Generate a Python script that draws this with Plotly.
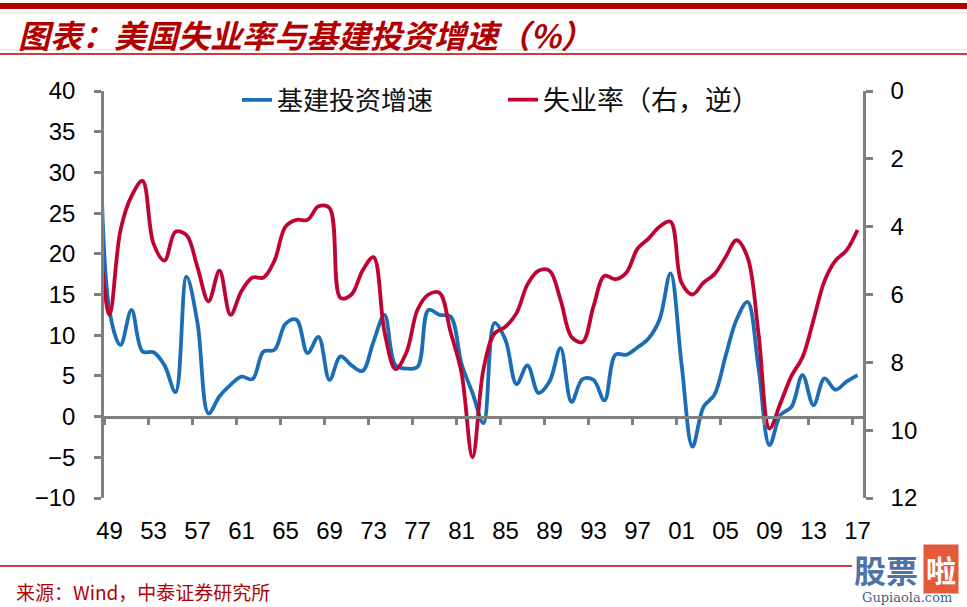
import plotly.graph_objects as go

# ---------------- data ----------------
years = list(range(1948, 2018))

# 基建投资增速 (%), left axis
infra_growth = [
    50.0, 13.0, 8.8, 13.1, 8.0, 7.9, 6.3, 3.0, 17.2, 11.5,   # 1948-1957
    0.4, 2.5, 3.9, 4.9, 4.6, 8.0, 8.2, 11.4, 11.9, 7.8,      # 1958-1967
    9.8, 4.5, 7.4, 6.3, 5.6, 9.2, 12.5, 6.3, 5.9, 6.1,       # 1968-1977
    13.1, 12.5, 12.3, 6.5, 2.9, -0.8, 11.5, 9.4, 4.0, 6.3,   # 1978-1987
    2.9, 4.3, 8.4, 1.8, 4.6, 4.5, 2.0, 7.6, 7.6, 8.5,        # 1988-1997
    9.6, 11.9, 17.6, 6.5, -3.7, 1.2, 2.7, 7.4, 11.9, 14.1,   # 1998-2007
    6.0, -3.5, 0.2, 1.2, 5.1, 1.4, 4.7, 3.3, 4.3, 5.1,       # 2008-2017
]

# 失业率 (%), right axis, reversed
unemployment = [
    4.0, 6.6, 4.1, 3.1, 2.65, 4.5, 5.0, 4.15, 4.25, 5.2,     # 1948-1957
    6.2, 5.3, 6.6, 5.9, 5.5, 5.5, 5.0, 4.0, 3.8, 3.8,        # 1958-1967
    3.4, 3.45, 6.1, 6.0, 5.3, 4.9, 7.1, 8.2, 7.7, 6.45,      # 1968-1977
    6.0, 5.95, 7.1, 8.3, 10.8, 8.2, 7.15, 6.95, 6.55, 5.7,   # 1978-1987
    5.3, 5.3, 6.15, 7.25, 7.4, 6.35, 5.45, 5.55, 5.35, 4.65, # 1988-1997
    4.35, 4.0, 3.85, 5.65, 6.0, 5.65, 5.4, 4.9, 4.4, 4.9,    # 1998-2007
    7.15, 9.95, 9.2, 8.4, 7.85, 6.75, 5.6, 5.0, 4.7, 4.1,    # 2008-2017
]

label_years = list(range(1949, 2018, 4))
label_text = [f"{y % 100:02d}" for y in label_years]
boundary_ticks = [y - 0.5 for y in label_years]
left_ticks = list(range(-10, 45, 5))
right_ticks = list(range(0, 14, 2))

series_names = ["基建投资增速", "失业率（右，逆）"]
title_text = "图表：美国失业率与基建投资增速（%）"
source_text = "来源：Wind，中泰证券研究所"

# ---------------- styling ----------------
W, H = 967, 607
ML, MR, MT, MB = 104, 104, 91, 109
PW, PH = W - ML - MR, H - MT - MB

BLUE = "#1B6DB5"
RED = "#BE0432"
GRAY = "#808080"
DARKRED = "#B20000"
NUM_FONT = "Liberation Sans, Arial, sans-serif"
CJK_FONT = "Noto Sans CJK SC, sans-serif"


def px_x(p):
    return (p - ML) / PW


def px_y(p):
    return (H - MB - p) / PH


fig = go.Figure()
fig.add_trace(go.Scatter(
    x=years, y=infra_growth, name=series_names[0], mode="lines",
    line=dict(color=BLUE, width=3.8, shape="spline", smoothing=1.0),
    xaxis="x", yaxis="y", legend="legend",
))
fig.add_trace(go.Scatter(
    x=years, y=unemployment, name=series_names[1], mode="lines",
    line=dict(color=RED, width=3.8, shape="spline", smoothing=1.0),
    xaxis="x2", yaxis="y2", legend="legend2",
))

xr = [1948.5, 2017.5]
fig.update_layout(
    width=W, height=H,
    margin=dict(l=ML, r=MR, t=MT, b=MB),
    paper_bgcolor="white", plot_bgcolor="white",
    xaxis=dict(
        range=xr, tickmode="array", tickvals=label_years, ticktext=label_text,
        showline=False, showgrid=False, zeroline=False, ticks="",
        tickfont=dict(family=NUM_FONT, size=24, color="black"),
        ticklabelstandoff=16,
    ),
    xaxis2=dict(
        range=xr, overlaying="x", anchor="free", position=10 / 50,
        tickmode="array", tickvals=boundary_ticks, showticklabels=False,
        ticks="outside", ticklen=7, tickwidth=2.5, tickcolor=GRAY,
        showline=True, linecolor=GRAY, linewidth=2.5,
        showgrid=False, zeroline=False,
    ),
    yaxis=dict(
        range=[-10, 40], tickmode="array", tickvals=left_ticks,
        ticks="outside", ticklen=7, tickwidth=2.5, tickcolor=GRAY,
        showline=True, linecolor=GRAY, linewidth=2.5,
        showgrid=False, zeroline=False,
        tickfont=dict(family=NUM_FONT, size=24, color="black"),
        ticklabelstandoff=14,
    ),
    yaxis2=dict(
        range=[12, 0], tickmode="array", tickvals=right_ticks,
        overlaying="y", side="right", anchor="x",
        ticks="outside", ticklen=7, tickwidth=2.5, tickcolor=GRAY,
        showline=True, linecolor=GRAY, linewidth=2.5,
        showgrid=False, zeroline=False,
        tickfont=dict(family=NUM_FONT, size=24, color="black"),
        ticklabelstandoff=13,
    ),
    legend=dict(
        x=px_x(237), y=px_y(100), xanchor="left", yanchor="middle",
        orientation="h", bgcolor="rgba(0,0,0,0)",
        font=dict(family=CJK_FONT, size=26, color="#111111"),
    ),
    legend2=dict(
        x=px_x(503), y=px_y(100), xanchor="left", yanchor="middle",
        orientation="h", bgcolor="rgba(0,0,0,0)",
        font=dict(family=CJK_FONT, size=27, color="#111111"),
    ),
    showlegend=True,
)

# header / footer decorations
shapes = [
    dict(type="rect", xref="paper", yref="paper",
         x0=px_x(0), x1=px_x(W), y0=px_y(9), y1=px_y(3),
         fillcolor=DARKRED, line=dict(width=0)),
    dict(type="line", xref="paper", yref="paper",
         x0=px_x(0), x1=px_x(W), y0=px_y(13), y1=px_y(13),
         line=dict(color="#EBD5D5", width=1)),
    dict(type="line", xref="paper", yref="paper",
         x0=px_x(0), x1=px_x(W), y0=px_y(50), y1=px_y(50),
         line=dict(color="#EBD5D5", width=1)),
    dict(type="line", xref="paper", yref="paper",
         x0=px_x(0), x1=px_x(W), y0=px_y(54), y1=px_y(54),
         line=dict(color=DARKRED, width=1.6)),
    dict(type="line", xref="paper", yref="paper",
         x0=px_x(0), x1=px_x(852), y0=px_y(566), y1=px_y(566),
         line=dict(color=DARKRED, width=1.6)),
]
fig.update_layout(shapes=shapes)

annotations = [
    dict(text=f"<b><i>{title_text}</i></b>", xref="paper", yref="paper",
         x=px_x(16), y=px_y(34), xanchor="left", yanchor="middle",
         showarrow=False, font=dict(family=CJK_FONT, size=32, color=DARKRED)),
    dict(text=source_text, xref="paper", yref="paper",
         x=px_x(14), y=px_y(591), xanchor="left", yanchor="middle",
         showarrow=False, font=dict(family=CJK_FONT, size=19, color=DARKRED)),
    # watermark
    dict(text="<b>股票</b>", xref="paper", yref="paper",
         x=px_x(886), y=px_y(569), xanchor="center", yanchor="middle",
         showarrow=False, font=dict(family=CJK_FONT, size=32, color="#4E72A8")),
    dict(text="<b>啦</b>", xref="paper", yref="paper",
         x=px_x(941), y=px_y(569), xanchor="center", yanchor="middle",
         showarrow=False, bgcolor="#E45A38", borderpad=2,
         font=dict(family=CJK_FONT, size=30, color="white")),
    dict(text="Gupiaola.com", xref="paper", yref="paper",
         x=px_x(907), y=px_y(597), xanchor="center", yanchor="middle",
         showarrow=False, font=dict(family="DejaVu Serif, serif", size=13, color="#3F5F86")),
]
fig.update_layout(annotations=annotations)

fig.write_html(
    "out.html",
    config={"displayModeBar": False},
    post_script="document.body.style.margin='0';document.body.style.padding='0';",
)
